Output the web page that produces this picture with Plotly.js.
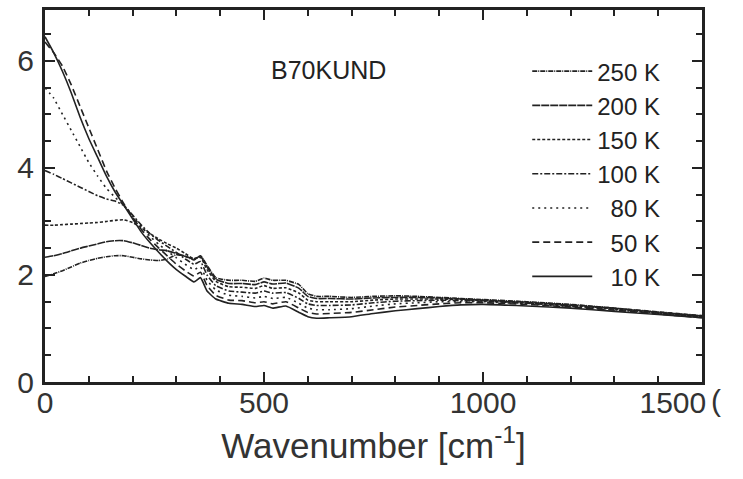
<!DOCTYPE html>
<html>
<head>
<meta charset="utf-8">
<script src="https://cdn.plot.ly/plotly-3.0.1.min.js"></script>
<style>html,body{margin:0;padding:0;background:#fff;}#chart{width:743px;height:479px;}</style>
</head>
<body>
<div id="chart"></div>
<script>
const wavenumber = [0, 20, 40, 60, 80, 100, 120, 140, 160, 180, 200, 220, 240, 260, 280, 300, 320, 340, 355, 370, 390, 420, 450, 480, 500, 520, 550, 580, 600, 620, 650, 700, 750, 800, 850, 900, 950, 1000, 1100, 1200, 1300, 1400, 1500];

const s250K = [1.97, 2.02, 2.08, 2.15, 2.22, 2.27, 2.31, 2.34, 2.36, 2.36, 2.33, 2.30, 2.28, 2.27, 2.30, 2.38, 2.35, 2.28, 2.36, 2.18, 1.95, 1.90, 1.90, 1.88, 1.94, 1.90, 1.90, 1.82, 1.65, 1.60, 1.60, 1.58, 1.60, 1.61, 1.60, 1.58, 1.56, 1.54, 1.50, 1.45, 1.38, 1.31, 1.24];
const s200K = [2.33, 2.36, 2.40, 2.45, 2.50, 2.54, 2.58, 2.62, 2.64, 2.64, 2.60, 2.55, 2.50, 2.47, 2.45, 2.40, 2.35, 2.30, 2.35, 2.15, 1.92, 1.84, 1.84, 1.82, 1.87, 1.83, 1.85, 1.75, 1.60, 1.56, 1.56, 1.55, 1.57, 1.58, 1.58, 1.57, 1.55, 1.53, 1.49, 1.44, 1.38, 1.30, 1.23];
const s150K = [2.93, 2.93, 2.94, 2.95, 2.96, 2.97, 2.98, 3.00, 3.02, 3.03, 2.98, 2.88, 2.77, 2.67, 2.58, 2.50, 2.40, 2.30, 2.33, 2.10, 1.88, 1.78, 1.77, 1.75, 1.80, 1.75, 1.76, 1.66, 1.53, 1.50, 1.50, 1.50, 1.53, 1.55, 1.55, 1.55, 1.54, 1.52, 1.48, 1.43, 1.37, 1.30, 1.23];
const s100K = [3.95, 3.88, 3.80, 3.72, 3.64, 3.56, 3.48, 3.42, 3.38, 3.30, 3.12, 2.93, 2.77, 2.64, 2.53, 2.42, 2.30, 2.20, 2.25, 2.00, 1.80, 1.70, 1.68, 1.66, 1.70, 1.66, 1.67, 1.56, 1.46, 1.43, 1.43, 1.44, 1.48, 1.51, 1.52, 1.53, 1.52, 1.51, 1.47, 1.42, 1.36, 1.29, 1.22];
const s80K  = [5.50, 5.30, 5.00, 4.70, 4.40, 4.10, 3.85, 3.62, 3.45, 3.30, 3.10, 2.90, 2.72, 2.57, 2.44, 2.32, 2.20, 2.10, 2.15, 1.90, 1.72, 1.62, 1.60, 1.57, 1.60, 1.56, 1.58, 1.47, 1.38, 1.35, 1.35, 1.37, 1.42, 1.46, 1.48, 1.50, 1.50, 1.50, 1.46, 1.41, 1.35, 1.28, 1.21];
const s50K  = [6.35, 6.15, 5.90, 5.55, 5.15, 4.75, 4.35, 3.95, 3.62, 3.33, 3.08, 2.85, 2.66, 2.50, 2.35, 2.20, 2.08, 1.98, 2.05, 1.80, 1.62, 1.53, 1.52, 1.48, 1.50, 1.46, 1.50, 1.38, 1.30, 1.27, 1.28, 1.30, 1.35, 1.40, 1.43, 1.46, 1.48, 1.48, 1.45, 1.40, 1.34, 1.27, 1.20];
const s10K  = [6.45, 6.15, 5.80, 5.40, 4.95, 4.55, 4.20, 3.85, 3.55, 3.30, 3.05, 2.80, 2.60, 2.42, 2.25, 2.10, 1.98, 1.87, 1.95, 1.70, 1.55, 1.47, 1.45, 1.41, 1.43, 1.38, 1.42, 1.30, 1.22, 1.19, 1.20, 1.22, 1.28, 1.33, 1.37, 1.41, 1.44, 1.45, 1.42, 1.38, 1.32, 1.26, 1.20];

const seriesNames = ["250 K", "200 K", "150 K", "100 K", "&nbsp;&nbsp;80 K", "&nbsp;&nbsp;50 K", "&nbsp;&nbsp;10 K"];
const seriesValues = [s250K, s200K, s150K, s100K, s80K, s50K, s10K];
const seriesDash = ["5px,1px,1px,1px", "8px,1px", "3px,2px", "6px,2px,2px,2px", "2px,4px", "7px,4px", "solid"];

const xTickVals = [0, 500, 1000, 1500];
const xTickText = ["0", "500", "1000", "1500&nbsp;&nbsp;&nbsp;&nbsp;&nbsp;&nbsp;&nbsp;"];
const yTickVals = [0, 2, 4, 6];

const FONT = "Liberation Sans, Arial, sans-serif";

const traces = seriesValues.map((vals, i) => ({
  x: wavenumber,
  y: vals,
  type: "scatter",
  mode: "lines",
  name: seriesNames[i],
  legendgroup: "g" + i,
  line: {color: "#222", width: 1.6, dash: seriesDash[i], shape: "spline", smoothing: 0.4}
}));

const layout = {
  width: 743,
  height: 479,
  margin: {l: 45, r: 41, t: 10, b: 97},
  paper_bgcolor: "#fff",
  plot_bgcolor: "#fff",
  font: {family: FONT, color: "#222"},
  showlegend: true,
  legend: {
    x: 0.734, y: 0.895, xanchor: "left", yanchor: "top",
    bgcolor: "rgba(0,0,0,0)", borderwidth: 0,
    font: {family: FONT, size: 24, color: "#222"},
    tracegroupgap: 0,
    itemwidth: 60,
    traceorder: "grouped"
  },
  xaxis: {
    range: [0, 1500],
    tickvals: xTickVals,
    ticktext: xTickText,
    ticks: "inside", ticklen: 10, tickwidth: 2, tickcolor: "#222",
    minor: {dtick: 100, tick0: 0, ticks: "inside", ticklen: 6, tickwidth: 2, tickcolor: "#222"},
    showline: true, linewidth: 3, linecolor: "#222", mirror: "ticks",
    showgrid: false, zeroline: false,
    tickfont: {family: FONT, size: 30, color: "#333"},
    ticklabelstandoff: -8,
    ticklabeloverflow: "allow",
    title: {text: "Wavenumber [cm<sup>-1</sup>]", font: {family: FONT, size: 35, color: "#333"}, standoff: 16}
  },
  yaxis: {
    range: [0, 6.95],
    tickvals: yTickVals,
    ticktext: yTickVals.map(String),
    ticks: "inside", ticklen: 10, tickwidth: 2, tickcolor: "#222",
    minor: {dtick: 0.5, tick0: 0, ticks: "inside", ticklen: 6, tickwidth: 2, tickcolor: "#222"},
    showline: true, linewidth: 3, linecolor: "#222", mirror: "ticks",
    showgrid: false, zeroline: false,
    tickfont: {family: FONT, size: 30, color: "#333"},
    ticklabelstandoff: 2
  },
  annotations: [
    {text: "B70KUND", xref: "paper", yref: "paper", x: 0.431, y: 0.839, xanchor: "center", yanchor: "middle", showarrow: false, font: {family: FONT, size: 25, color: "#222"}},
    {text: "(", xref: "paper", yref: "paper", x: 1.01, y: -0.05, xanchor: "left", yanchor: "middle", showarrow: false, font: {family: FONT, size: 30, color: "#333"}}
  ]
};

Plotly.newPlot("chart", traces, layout, {staticPlot: true, displayModeBar: false});
</script>
</body>
</html>
